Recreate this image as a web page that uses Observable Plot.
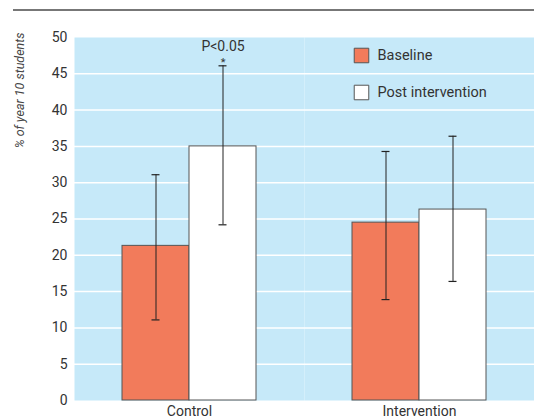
<!DOCTYPE html>
<html>
<head>
<meta charset="utf-8">
<script src="https://cdn.jsdelivr.net/npm/d3@7"></script>
<script src="https://cdn.jsdelivr.net/npm/@observablehq/plot@0.6"></script>
<style>
  html, body { margin: 0; padding: 0; background: #fff; }
  #wrap { position: relative; width: 534px; height: 420px; overflow: hidden; }
  #topline { position: absolute; left: 13px; right: 0; top: 9px; height: 0; border-top: 2px solid #777; }
  #chart { position: absolute; left: 0; top: 0; }
</style>
</head>
<body>
<div id="wrap"><div id="topline"></div><div id="chart"></div></div>
<script>
const groups = ["Control", "Intervention"];
const series = ["Baseline", "Post intervention"];
const baselineValues = [21.3, 24.5];
const baselineLow = [11.1, 13.9];
const baselineHigh = [31.1, 34.3];
const postValues = [35.0, 26.3];
const postLow = [24.2, 16.4];
const postHigh = [46.1, 36.4];
const yTicks = [0, 5, 10, 15, 20, 25, 30, 35, 40, 45, 50];
const yLabel = "% of year 10 students";
const annotation = [{group: "Control", series: "Post intervention", p: "P<0.05", star: "*", y: 46.1}];
const colors = ["#f27b5b", "#ffffff"];

const data = [];
groups.forEach((g, i) => {
  data.push({group: g, series: series[0], value: baselineValues[i], lo: baselineLow[i], hi: baselineHigh[i]});
  data.push({group: g, series: series[1], value: postValues[i], lo: postLow[i], hi: postHigh[i]});
});

const font = "Roboto, 'Liberation Sans', Arial, sans-serif";

const chart = Plot.plot({
  width: 534,
  height: 420,
  marginTop: 37,
  marginLeft: 74,
  marginRight: 0,
  marginBottom: 20,
  style: {fontFamily: font, fontSize: "14px", color: "#333", background: "transparent", overflow: "visible"},
  fx: {domain: groups, padding: 0, label: null, tickSize: 0, tickPadding: 6, axis: "bottom"},
  x: {domain: series, axis: null, paddingInner: 0, paddingOuter: 0.716},
  y: {domain: [0, 50], ticks: yTicks, tickSize: 0, tickPadding: 7, label: null},
  color: {domain: series, range: colors},
  marks: [
    Plot.frame({fill: "#c6e9f9", stroke: "none"}),
    Plot.ruleY(yTicks.filter(d => d > 0 && d < 50), {stroke: "#ffffff", strokeWidth: 1.5}),
    Plot.barY(data, {fx: "group", x: "series", y: "value", fill: "series", stroke: "#555", strokeWidth: 1}),
    Plot.ruleX(data, {fx: "group", x: "series", y1: "lo", y2: "hi", stroke: "#222", strokeWidth: 1}),
    Plot.tickY(data, {fx: "group", x: "series", y: "hi", stroke: "#222", strokeWidth: 1.2, insetLeft: 29.5, insetRight: 29.5}),
    Plot.tickY(data, {fx: "group", x: "series", y: "lo", stroke: "#222", strokeWidth: 1.2, insetLeft: 29.5, insetRight: 29.5}),
    Plot.text(annotation, {fx: "group", x: "series", y: "y", text: "p", dy: -19, fill: "#333", fontSize: 14}),
    Plot.text(annotation, {fx: "group", x: "series", y: "y", text: "star", dy: -3, fill: "#333", fontSize: 11}),
    Plot.text([{group: "Control", t: yLabel}], {fx: "group", text: "t", frameAnchor: "top-left", rotate: -90, textAnchor: "end", lineAnchor: "middle", dx: -55, dy: -5, fill: "#444", fontStyle: "italic", fontSize: 12.5}),
    Plot.dot([{group: "Intervention", s: series[0]}], {fx: "group", frameAnchor: "top-left", dx: 57, dy: 18, symbol: "square", r: 8.2, fill: colors[0], stroke: "#555", strokeWidth: 1}),
    Plot.dot([{group: "Intervention", s: series[1]}], {fx: "group", frameAnchor: "top-left", dx: 57, dy: 55, symbol: "square", r: 8.2, fill: colors[1], stroke: "#555", strokeWidth: 1}),
    Plot.text([{group: "Intervention", s: series[0]}], {fx: "group", text: "s", frameAnchor: "top-left", dx: 73, dy: 18, textAnchor: "start", lineAnchor: "middle", fill: "#333", fontSize: 14.5}),
    Plot.text([{group: "Intervention", s: series[1]}], {fx: "group", text: "s", frameAnchor: "top-left", dx: 73, dy: 55, textAnchor: "start", lineAnchor: "middle", fill: "#333", fontSize: 14.5})
  ]
});
document.getElementById("chart").appendChild(chart);
</script>
</body>
</html>
